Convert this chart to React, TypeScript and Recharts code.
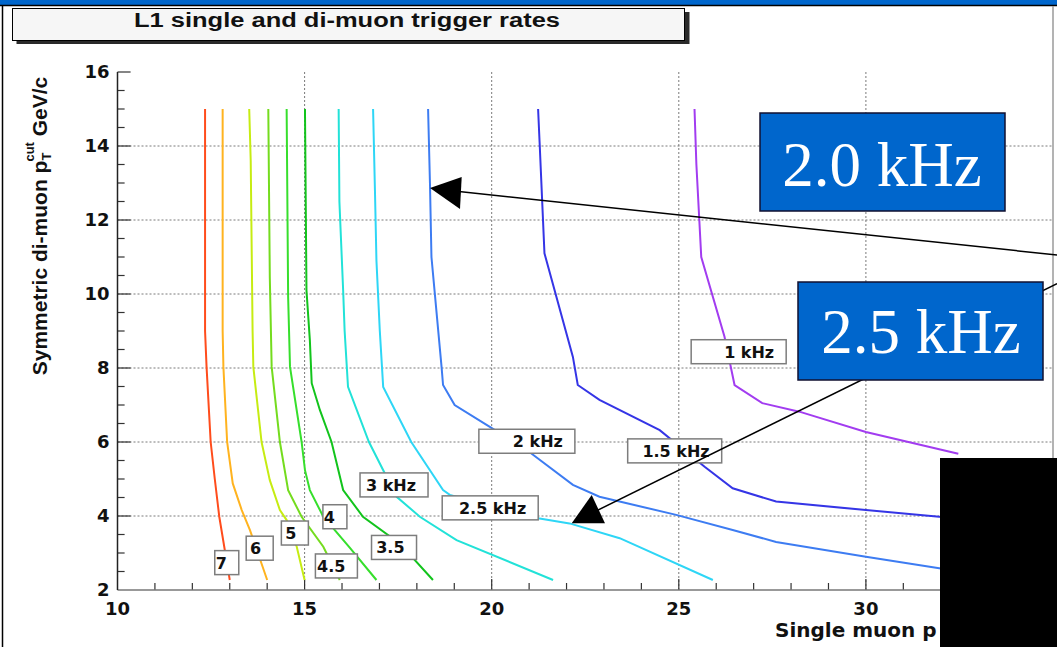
import React from 'react';
import { LineChart, Line, XAxis, YAxis, CartesianGrid, ReferenceLine, ReferenceDot } from 'recharts';

type Pt = [number, number];

// L1 rate contours: [single muon pT cut, symmetric di-muon pT cut]
const rate7: Pt[] = [[12.34, 15], [12.34, 9.0], [12.38, 8.03], [12.49, 6.0], [12.6, 5.0], [12.72, 3.98], [13.0, 2.27]];
const rate6: Pt[] = [[12.81, 15], [12.81, 9.0], [12.83, 8.03], [12.93, 6.0], [13.08, 4.88], [13.32, 4.16], [13.54, 3.62], [14.0, 2.27]];
const rate5: Pt[] = [[13.52, 15], [13.56, 13.6], [13.61, 9.0], [13.63, 8.03], [13.85, 6.0], [14.07, 4.97], [14.34, 4.16], [14.52, 3.89], [14.79, 3.17], [15.0, 2.27]];
const rate45: Pt[] = [[14.03, 15], [14.07, 10.46], [14.12, 8.03], [14.34, 6.0], [14.56, 4.7], [14.92, 3.98], [15.5, 3.17], [15.94, 2.27]];
const rate4: Pt[] = [[14.52, 15], [14.56, 9.92], [14.61, 8.03], [14.92, 6.0], [15.01, 5.24], [15.14, 4.7], [15.5, 3.98], [16.2, 3.15], [16.92, 2.27]];
const rate35: Pt[] = [[15.01, 15], [15.05, 10.1], [15.14, 8.76], [15.19, 7.59], [15.41, 6.86], [15.72, 6.0], [16.03, 4.7], [16.56, 3.98], [17.54, 3.26], [18.43, 2.27]];
const rate3: Pt[] = [[15.91, 15], [15.93, 12.5], [16.03, 10.1], [16.07, 9.0], [16.16, 7.49], [16.72, 6.0], [17.46, 4.52], [18.08, 3.98], [19.06, 3.35], [21.64, 2.27]];
const rate25: Pt[] = [[16.83, 15], [16.88, 12.8], [16.92, 10.9], [17.01, 9.0], [17.1, 7.49], [17.85, 6.0], [18.7, 4.7], [18.88, 4.57], [21.24, 3.94], [22.08, 3.8], [23.42, 3.4], [25.91, 2.27]];
const rate2: Pt[] = [[18.3, 15], [18.35, 13], [18.39, 11.0], [18.66, 8.03], [18.7, 7.54], [19.01, 7.0], [19.95, 6.41], [21.06, 5.69], [22.17, 4.84], [22.88, 4.52], [24.93, 4.03], [26.44, 3.62], [27.6, 3.3], [30.0, 2.9], [31.96, 2.59], [33.5, 2.35]];
const rate15: Pt[] = [[21.24, 15], [21.28, 14.1], [21.41, 11.1], [22.17, 8.3], [22.3, 7.54], [22.88, 7.14], [24.49, 6.32], [25.69, 5.33], [26.44, 4.75], [27.6, 4.39], [30.0, 4.16], [31.96, 3.98], [34.0, 3.85]];
const rate1: Pt[] = [[25.42, 15], [25.47, 13.5], [25.6, 11.0], [26.22, 8.85], [26.49, 7.54], [27.23, 7.05], [28.22, 6.82], [30.0, 6.27], [32.47, 5.68]];

const rateCurves = [rate7, rate6, rate5, rate45, rate4, rate35, rate3, rate25, rate2, rate15, rate1];
const rateNames = ['7', '6', '5', '4.5', '4', '3.5', '3 kHz', '2.5 kHz', '2 kHz', '1.5 kHz', '1 kHz'];
const rateColors = ['#ff4c1c', '#ffb31f', '#c6ec12', '#74dc1e', '#36df2c', '#12c41c', '#22e2d8', '#2ed6f6', '#3d7cf2', '#3535e6', '#a23cf0'];

// label box anchors (data coords) and box widths
const labelX = [12.92, 13.8, 14.74, 15.85, 15.81, 17.39, 17.39, 19.96, 20.94, 24.89, 26.6];
const labelY = [2.74, 3.13, 3.54, 2.65, 3.98, 3.15, 4.84, 4.22, 6.02, 5.76, 8.44];
const labelW = [24, 27, 27, 42, 24, 45, 68, 96, 96, 94, 95];

const xTicks = [10, 15, 20, 25, 30];
const yTicks = [2, 4, 6, 8, 10, 12, 14, 16];
const xMajor = [15, 20, 25, 30];
const xMinor = [11, 12, 13, 14, 16, 17, 18, 19, 21, 22, 23, 24, 26, 27, 28, 29, 31, 32, 33, 34];
const yMajor = [4, 6, 8, 10, 12, 14, 16];
const yMinor = [2.5, 3, 3.5, 4.5, 5, 5.5, 6.5, 7, 7.5, 8.5, 9, 9.5, 10.5, 11, 11.5, 12.5, 13, 13.5, 14.5, 15, 15.5];

const toRows = (pts: Pt[]) => pts.map(([x, y]) => ({ x, y }));

const axisFont = { fontFamily: 'DejaVu Sans', fontWeight: 'bold', fontSize: 18, fill: '#111' };

const labelShape = (text: string, w: number) => (props: any) => {
  const { cx, cy } = props;
  const h = 24;
  return (
    <g>
      <rect x={cx - w / 2} y={cy - h / 2} width={w} height={h} fill="#ffffff" stroke="#7d7d7d" strokeWidth={1.5} />
      <text x={cx + w / 2 - 12} y={cy + 6} textAnchor="end" fontFamily="DejaVu Sans" fontWeight="bold" fontSize={16} fill="#111">
        {text}
      </text>
    </g>
  );
};

export default function App() {
  return (
    <div style={{ position: 'absolute', left: 0, top: 0, width: 1057, height: 647, background: '#ffffff', overflow: 'hidden' }}>
      <div style={{ position: 'absolute', left: 0, top: 0 }}>
        <LineChart width={1057} height={647} margin={{ top: 72, right: 4, bottom: 0, left: 0 }}>
          <CartesianGrid
            stroke="#7a7a7a"
            strokeDasharray="2 2"
            horizontalValues={[4, 6, 8, 10, 12, 14]}
            verticalValues={[15, 20, 25, 30]}
          />
          <XAxis
            dataKey="x"
            type="number"
            domain={[10, 35]}
            ticks={xTicks}
            height={57}
            tickSize={0}
            tickMargin={12}
            tickLine={false}
            axisLine={{ stroke: '#777', strokeWidth: 1.5 }}
            tick={axisFont}
            allowDataOverflow
          />
          <YAxis
            type="number"
            domain={[2, 16]}
            ticks={yTicks}
            width={117.5}
            tickSize={0}
            tickMargin={8}
            tickLine={false}
            axisLine={{ stroke: '#222', strokeWidth: 1.5 }}
            tick={axisFont}
            allowDataOverflow
          />
          {xMajor.map((v) => (
            <ReferenceLine key={'xM' + v} segment={[{ x: v, y: 2 }, { x: v, y: 2.3 }]} stroke="#333" strokeWidth={1.2} />
          ))}
          {xMinor.map((v) => (
            <ReferenceLine key={'xm' + v} segment={[{ x: v, y: 2 }, { x: v, y: 2.19 }]} stroke="#333" strokeWidth={1.2} />
          ))}
          {yMajor.map((v) => (
            <ReferenceLine key={'yM' + v} segment={[{ x: 10, y: v }, { x: 10.35, y: v }]} stroke="#333" strokeWidth={1.2} />
          ))}
          {yMinor.map((v) => (
            <ReferenceLine key={'ym' + v} segment={[{ x: 10, y: v }, { x: 10.19, y: v }]} stroke="#333" strokeWidth={1.2} />
          ))}
          {rateCurves.map((pts, i) => (
            <Line
              key={rateNames[i]}
              data={toRows(pts)}
              dataKey="y"
              type="linear"
              stroke={rateColors[i]}
              strokeWidth={2}
              dot={false}
              isAnimationActive={false}
            />
          ))}
          {rateNames.map((name, i) => (
            <ReferenceDot key={'lab' + name} x={labelX[i]} y={labelY[i]} shape={labelShape(name, labelW[i])} />
          ))}
        </LineChart>
      </div>

      <svg width={1057} height={647} style={{ position: 'absolute', left: 0, top: 0, pointerEvents: 'none' }}>
        <rect x={0} y={0} width={1057} height={5} fill="#0066cc" />
        <line x1={0} y1={5.5} x2={1057} y2={5.5} stroke="#000" strokeWidth={1.5} />
        <line x1={2.5} y1={5} x2={2.5} y2={647} stroke="#000" strokeWidth={1.5} />
        <line x1={1053} y1={6} x2={1053} y2={647} stroke="#9a9a9a" strokeWidth={1.5} />

        <rect x={16.5} y={12} width={673} height={32} fill="#2a2a2a" />
        <rect x={12.5} y={8.5} width={672} height={32} fill="#f6f6f6" stroke="#000" strokeWidth={1} />
        <text x={134} y={27} textLength={426} lengthAdjust="spacingAndGlyphs" fontFamily="Liberation Sans, Arial" fontWeight="bold" fontSize={19.5} fill="#111">
          L1 single and di-muon trigger rates
        </text>

        <text transform="translate(46.5 226) rotate(-90)" textAnchor="middle" fontFamily="Liberation Sans, Arial" fontWeight="bold" fontSize={21} fill="#111">
          Symmetric di-muon p
          <tspan dy={4} fontSize={13}>T</tspan>
          <tspan dx={-8} dy={-17} fontSize={13}>cut</tspan>
          <tspan dy={13}> GeV/c</tspan>
        </text>

        <text x={775} y={637} fontFamily="DejaVu Sans" fontWeight="bold" fontSize={20} fill="#111">
          Single muon p
        </text>

        <line x1={1057} y1={255} x2={445} y2={190} stroke="#000" strokeWidth={1.5} />
        <polygon points="430,188 461.7,177 460,209" fill="#000" />
        <line x1={1057} y1={283.6} x2={592} y2={513} stroke="#000" strokeWidth={1.5} />
        <polygon points="571.7,523.3 605,523.3 591.7,495" fill="#000" />

        <rect x={760} y={113} width={245} height={98} fill="#0066cc" stroke="#101030" strokeWidth={1.5} />
        <text x={882} y={186} textAnchor="middle" fontFamily="Liberation Serif, Times New Roman, serif" fontSize={63} fill="#ffffff">
          2.0 kHz
        </text>
        <rect x={798} y={282} width={245} height={98} fill="#0066cc" stroke="#101030" strokeWidth={1.5} />
        <text x={921} y={353} textAnchor="middle" fontFamily="Liberation Serif, Times New Roman, serif" fontSize={63} fill="#ffffff">
          2.5 kHz
        </text>

        <rect x={940} y={458} width={117} height={189} fill="#000" />
      </svg>
    </div>
  );
}
